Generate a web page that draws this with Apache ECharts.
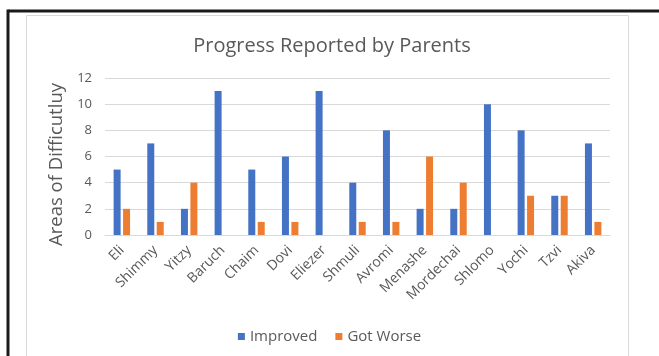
<!DOCTYPE html>
<html><head><meta charset="utf-8">
<script src="https://cdn.jsdelivr.net/npm/echarts@6/dist/echarts.min.js"></script>
<style>html,body{margin:0;padding:0;background:#fff}#c{width:659px;height:356px}</style>
</head><body><div id="c"></div>
<script>
const categories = ['Eli','Shimmy','Yitzy','Baruch','Chaim','Dovi','Eliezer','Shmuli','Avromi','Menashe','Mordechai','Shlomo','Yochi','Tzvi','Akiva'];
const improved = [5,7,2,11,5,6,11,4,8,2,2,10,8,3,7];
const gotWorse = [2,1,4,0,1,1,0,1,1,6,4,0,3,3,1];
const yTicks = [0,2,4,6,8,10,12];

const font = 'Open Sans';
const chart = echarts.init(document.getElementById('c'), null, {renderer:'canvas'});
chart.setOption({
  backgroundColor:'#fff',
  animation:false,
  textStyle:{fontFamily:font},
  graphic:[
    {type:'rect', shape:{x:26.5,y:15.5,width:602,height:400}, style:{fill:'#fff',stroke:'#d9d9d9',lineWidth:1}, z:-10},
    {type:'line', shape:{x1:8.5,y1:11,x2:659,y2:11}, style:{stroke:'#1a1a1a',lineWidth:3}},
    {type:'line', shape:{x1:8,y1:9.5,x2:8,y2:356}, style:{stroke:'#1a1a1a',lineWidth:3}}
  ],
  title:{text:'Progress Reported by Parents', left:327, textAlign:'center', top:31,
    textStyle:{fontFamily:font,fontSize:20,fontWeight:'normal',color:'#595959'}},
  legend:{bottom:7, left:'center', itemWidth:7, itemHeight:7, itemGap:18,
    icon:'rect', textStyle:{fontFamily:font,fontSize:15,color:'#595959'},
    data:['Improved','Got Worse']},
  grid:{left:105,right:49,top:78,bottom:121},
  xAxis:{type:'category', data:categories,
    axisLine:{lineStyle:{color:'#d9d9d9'}}, axisTick:{show:false},
    axisLabel:{rotate:45, fontSize:14, color:'#595959', fontFamily:font, interval:0, margin:13}},
  yAxis:{type:'value', min:yTicks[0], max:yTicks[yTicks.length-1], interval:2,
    name:'Areas of Difficutluy', nameLocation:'middle', nameGap:25,
    nameTextStyle:{fontFamily:font,fontSize:18.5,color:'#595959', padding:[0,16,0,0]},
    axisLine:{show:false}, axisTick:{show:false},
    axisLabel:{fontSize:13,color:'#595959',fontFamily:font, margin:13},
    splitLine:{lineStyle:{color:'#d9d9d9'}}},
  series:[
    {name:'Improved', type:'bar', data:improved, barWidth:7, barGap:'35%', itemStyle:{color:'#4472C4'}},
    {name:'Got Worse', type:'bar', data:gotWorse, barWidth:7, itemStyle:{color:'#ED7D31'}}
  ]
});
</script></body></html>
